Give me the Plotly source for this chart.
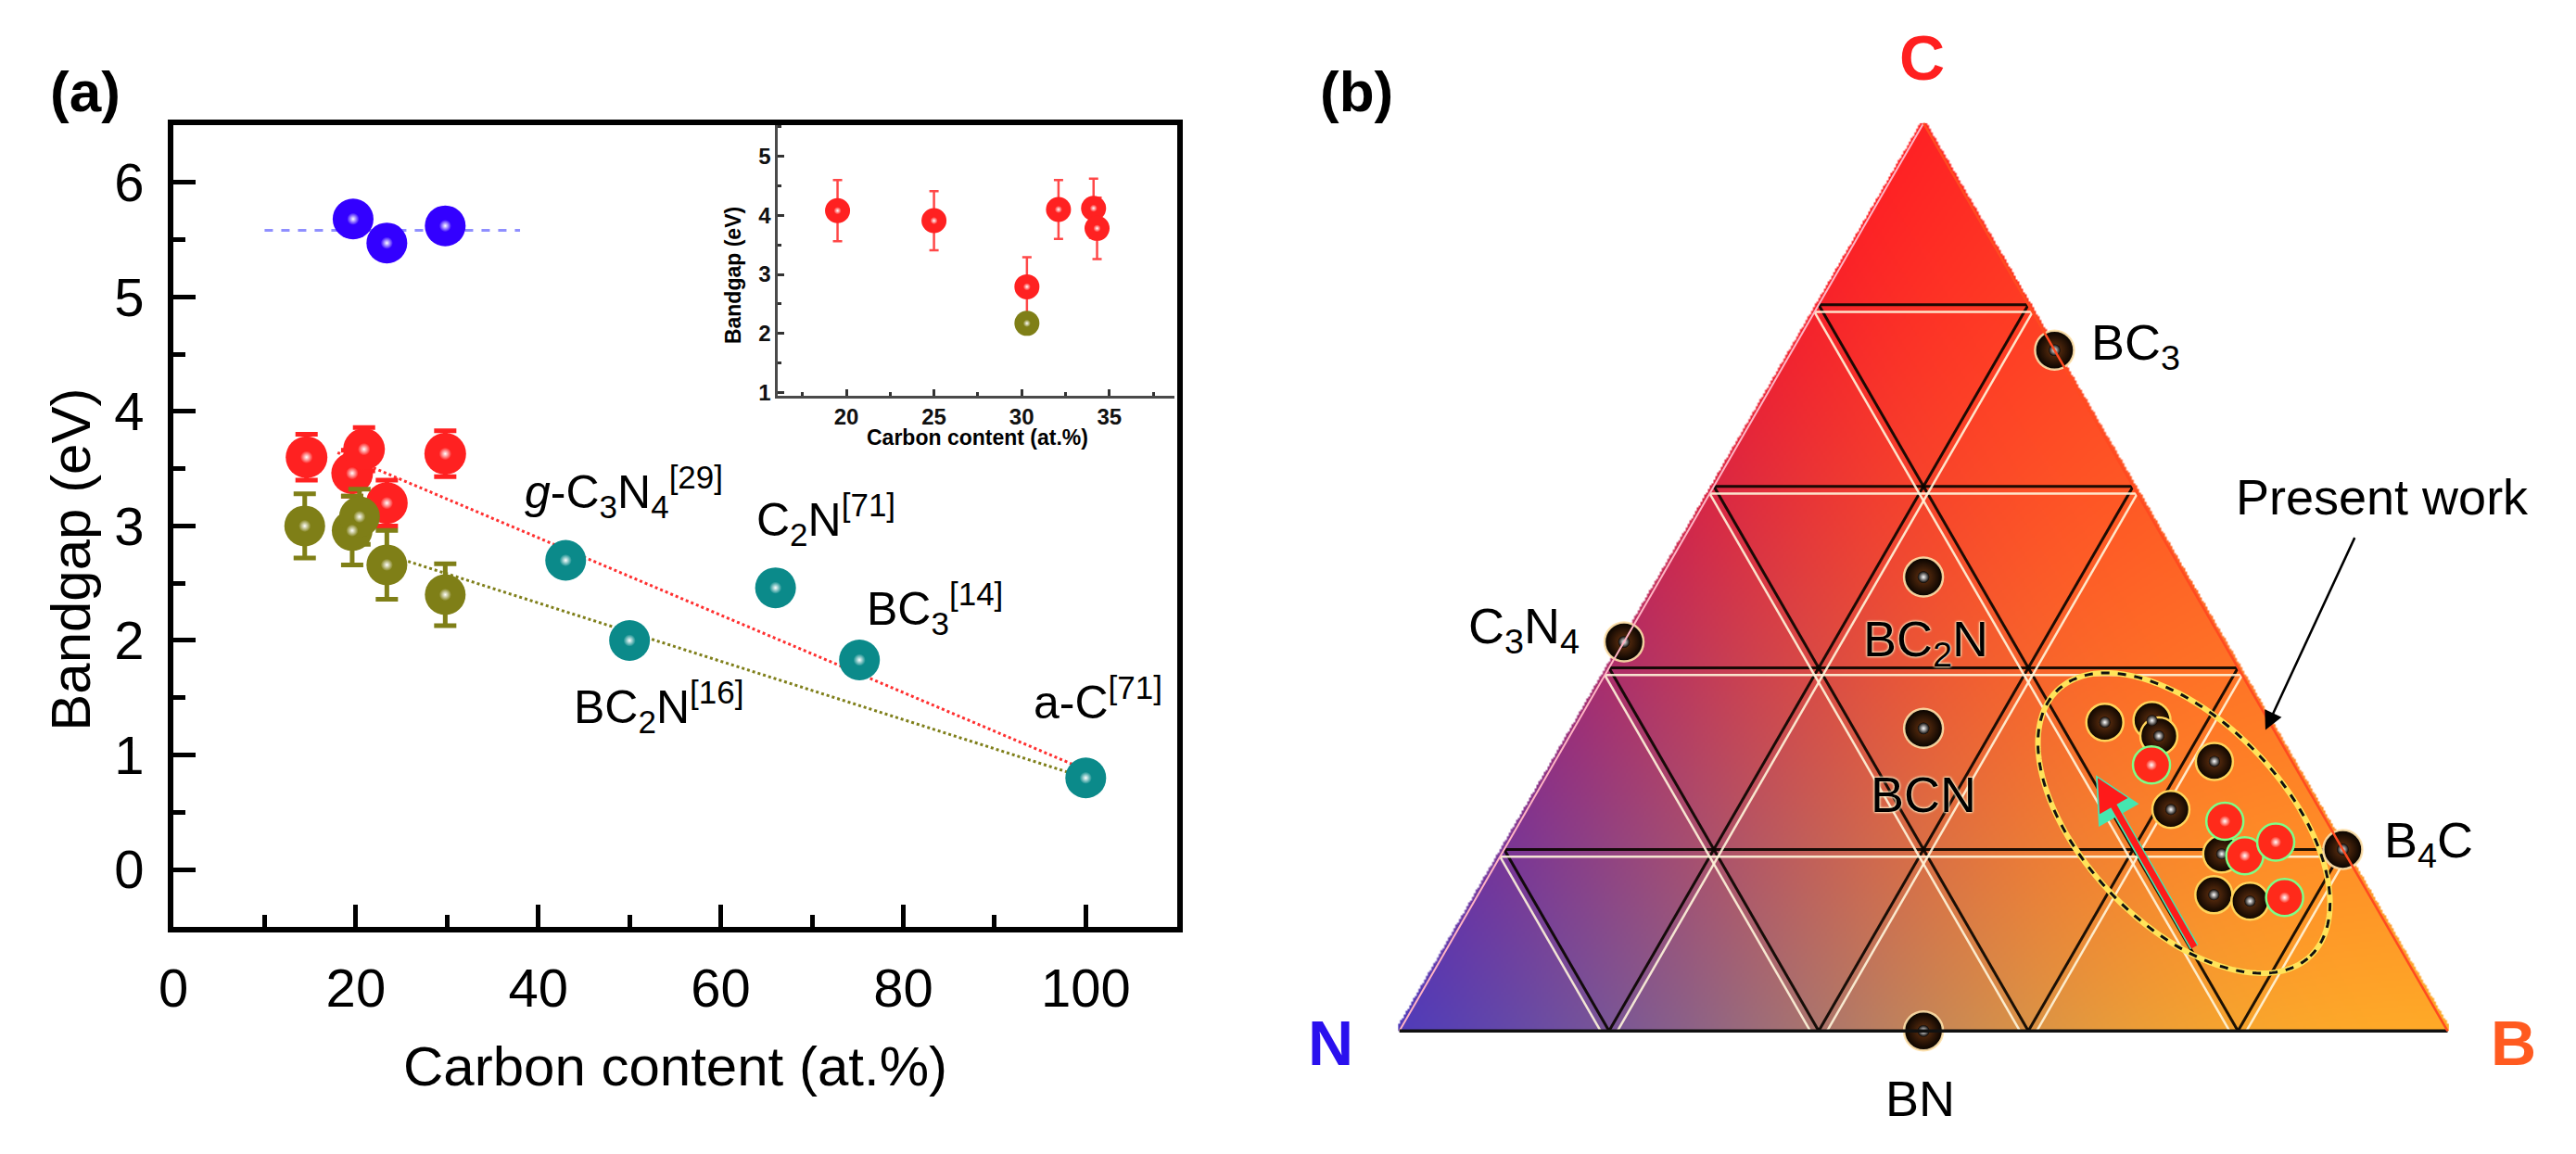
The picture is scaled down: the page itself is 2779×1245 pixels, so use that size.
import numpy as np
import plotly.graph_objects as go
import zlib, struct, base64

W, H = 2779, 1245
FONT = "Liberation Sans, Arial, sans-serif"

# ---------------- panel (a): main data ----------------
carbon_blue = [19.7, 23.4, 29.8]
gap_blue = [5.68, 5.47, 5.62]

carbon_red = [14.6, 19.6, 20.9, 23.4, 29.8]
gap_red = [3.60, 3.46, 3.67, 3.20, 3.63]
err_red = [0.20, 0.20, 0.19, 0.20, 0.20]

carbon_olive = [14.4, 19.6, 20.4, 23.4, 29.8]
gap_olive = [3.00, 2.96, 3.08, 2.66, 2.40]
err_olive = [0.28, 0.30, 0.24, 0.30, 0.27]

ref_labels = ["<i>g</i>-C<sub>3</sub>N<sub>4</sub><sup>[29]</sup>",
              "BC<sub>2</sub>N<sup>[16]</sup>",
              "C<sub>2</sub>N<sup>[71]</sup>",
              "BC<sub>3</sub><sup>[14]</sup>",
              "a-C<sup>[71]</sup>"]
carbon_ref = [43.0, 50.0, 66.0, 75.2, 100.0]
gap_ref = [2.70, 2.00, 2.46, 1.83, 0.80]

blue_guide_x = [10, 38]
blue_guide_y = [5.58, 5.58]
red_guide_x = [18, 100]
red_guide_y = [3.64, 0.87]
olive_guide_x = [23.4, 100]
olive_guide_y = [2.75, 0.80]

# ---------------- panel (a): inset data ----------------
inset_carbon_red = [19.5, 25.0, 30.3, 32.1, 34.1, 34.3]
inset_gap_red = [4.08, 3.91, 2.79, 4.10, 4.12, 3.78]
inset_err_red = [0.52, 0.50, 0.50, 0.50, 0.50, 0.52]
inset_carbon_olive = [30.3]
inset_gap_olive = [2.17]

# ---------------- panel (b): ternary data (C, N, B fractions) ----------------
phase_labels = ["BC<sub>3</sub>", "C<sub>3</sub>N<sub>4</sub>", "BC<sub>2</sub>N", "BCN", "BN", "B<sub>4</sub>C"]
phase_C = [0.75, 0.4286, 0.50, 0.3333, 0.0, 0.20]
phase_N = [0.0, 0.5714, 0.25, 0.3333, 0.50, 0.0]
phase_B = [0.25, 0.0, 0.25, 0.3334, 0.50, 0.80]

pw_black_C = [0.340, 0.342, 0.325, 0.297, 0.244, 0.195, 0.150, 0.143]
pw_black_N = [0.157, 0.111, 0.113, 0.074, 0.142, 0.118, 0.148, 0.117]
pw_black_B = [0.503, 0.547, 0.562, 0.629, 0.614, 0.687, 0.702, 0.740]

pw_red_C = [0.293, 0.231, 0.193, 0.208, 0.147]
pw_red_N = [0.136, 0.097, 0.097, 0.060, 0.082]
pw_red_B = [0.571, 0.672, 0.710, 0.732, 0.771]

grid_values = [0.2, 0.4, 0.6, 0.8]

# ellipse around present work (centre composition, semi-axes in triangle-side units, tilt)
ELL_C, ELL_N, ELL_B = 0.229, 0.137, 0.634
ELL_A, ELL_Bax, ELL_ANG = 0.175, 0.0965, -46.5


def X(px):
    return px / W


def Y(py):
    return 1 - py / H


fig = go.Figure()


def add_balls(x, y, color, size, xa, ya, err=None, errcolor=None, thick=5, capw=12, hl=0.3):
    tr = dict(x=x, y=y, mode="markers", xaxis=xa, yaxis=ya, hoverinfo="skip",
              showlegend=False, cliponaxis=False,
              marker=dict(size=size, color=color, line=dict(width=0)))
    if err is not None:
        tr["error_y"] = dict(type="data", array=err, visible=True, color=errcolor or color,
                             thickness=thick, width=capw)
    fig.add_trace(go.Scatter(**tr))
    fig.add_trace(go.Scatter(x=x, y=y, mode="markers", xaxis=xa, yaxis=ya, hoverinfo="skip",
                             showlegend=False, cliponaxis=False,
                             marker=dict(size=size * hl, color=color, line=dict(width=0),
                                         gradient=dict(type="radial", color="white"))))


fig.add_trace(go.Scatter(x=blue_guide_x, y=blue_guide_y, mode="lines", xaxis="x", yaxis="y",
                         line=dict(color="#8f8fff", width=3, dash="dash"), hoverinfo="skip", showlegend=False))
fig.add_trace(go.Scatter(x=red_guide_x, y=red_guide_y, mode="lines", xaxis="x", yaxis="y",
                         line=dict(color="#ff3030", width=3, dash="dot"), hoverinfo="skip", showlegend=False))
fig.add_trace(go.Scatter(x=olive_guide_x, y=olive_guide_y, mode="lines", xaxis="x", yaxis="y",
                         line=dict(color="#7f7f1a", width=3, dash="dot"), hoverinfo="skip", showlegend=False))

add_balls(carbon_blue, gap_blue, "#3300ff", 44, "x", "y")
add_balls(carbon_red, gap_red, "#ff2121", 45, "x", "y", err=err_red)
add_balls(carbon_olive, gap_olive, "#7f7f17", 44, "x", "y", err=err_olive)
add_balls(carbon_ref, gap_ref, "#0b8a8a", 44, "x", "y")

# ---------- inset ----------
add_balls(inset_carbon_red, inset_gap_red, "#ff2121", 27, "x2", "y2", err=inset_err_red,
          errcolor="#ff4848", thick=2.5, capw=5)
add_balls(inset_carbon_olive, inset_gap_olive, "#7f7f17", 27, "x2", "y2")

# ---------- ternary panel ----------
TRI_L, TRI_R, TRI_T = 1501, 2641, 134
TRI_H = (TRI_R - TRI_L) / np.sqrt(4 / 3)

IW, IH = 570, int(round(TRI_H / 2))
jj, ii = np.meshgrid(np.arange(IW), np.arange(IH))
gx = (jj + 0.5) / IW
gy = 1 - (ii + 0.5) / IH
cC = gy
cB = gx - gy / 2
cN = 1 - cC - cB
inside = (cC >= -0.003) & (cB >= -0.003) & (cN >= -0.003)
wC = np.clip(cC, 0, 1)
wB = np.clip(cB, 0, 1)
wN = np.clip(cN, 0, 1) ** 2.0
ws = wC + wB + wN + 1e-9
col_C = np.array([255, 34, 36])
col_N = np.array([80, 60, 186])
col_B = np.array([255, 170, 40])
rgb = (wC[..., None] * col_C + wB[..., None] * col_B + wN[..., None] * col_N) / ws[..., None]
rgba = np.zeros((IH, IW, 4), dtype=np.uint8)
rgba[..., :3] = np.clip(rgb, 0, 255).astype(np.uint8)
rgba[..., 3] = np.where(inside, 255, 0)


def png_uri(arr):
    h, w, _ = arr.shape
    a = arr.astype(np.int16)
    d = a.copy()
    d[1:] = a[1:] - a[:-1]
    d = (d % 256).astype(np.uint8).reshape(h, w * 4)
    raw = np.concatenate([np.full((h, 1), 2, np.uint8), d], axis=1).tobytes()

    def chunk(tag, payload):
        return (struct.pack(">I", len(payload)) + tag + payload +
                struct.pack(">I", zlib.crc32(tag + payload) & 0xFFFFFFFF))
    png = (b"\x89PNG\r\n\x1a\n" + chunk(b"IHDR", struct.pack(">IIBBBBB", w, h, 8, 6, 0, 0, 0)) +
           chunk(b"IDAT", zlib.compress(raw, 9)) + chunk(b"IEND", b""))
    return "data:image/png;base64," + base64.b64encode(png).decode()


fig.add_layout_image(dict(source=png_uri(rgba), xref="paper", yref="paper",
                          x=X(TRI_L), y=Y(TRI_T), sizex=(TRI_R - TRI_L) / W, sizey=TRI_H / H,
                          xanchor="left", yanchor="top", sizing="stretch", layer="below"))

off = 0.008
light = "rgba(255,246,220,0.9)"
for v in grid_values:
    s = 1 - v + off
    fig.add_trace(go.Scatterternary(a=[v - off] * 2, b=[s, 0], c=[0, s], mode="lines",
                                    line=dict(color=light, width=2.5), hoverinfo="skip", showlegend=False))
    s2 = 1 - v - off
    fig.add_trace(go.Scatterternary(b=[v + off] * 2, a=[s2, 0], c=[0, s2], mode="lines",
                                    line=dict(color=light, width=2.5), hoverinfo="skip", showlegend=False))
    fig.add_trace(go.Scatterternary(c=[v + off] * 2, a=[s2, 0], b=[0, s2], mode="lines",
                                    line=dict(color=light, width=2.5), hoverinfo="skip", showlegend=False))

t = np.linspace(0, 2 * np.pi, 240)
ang = np.deg2rad(ELL_ANG)
x0 = ELL_B + ELL_C / 2
y0 = ELL_C * np.sqrt(3) / 2
ex = x0 + ELL_A * np.cos(t) * np.cos(ang) - ELL_Bax * np.sin(t) * np.sin(ang)
ey = y0 + ELL_A * np.cos(t) * np.sin(ang) + ELL_Bax * np.sin(t) * np.cos(ang)
eC = ey / (np.sqrt(3) / 2)
eB = ex - eC / 2
eN = 1 - eC - eB
fig.add_trace(go.Scatterternary(a=eC, b=eN, c=eB, mode="lines", cliponaxis=False,
                                line=dict(color="#ffe45a", width=6), hoverinfo="skip", showlegend=False))
fig.add_trace(go.Scatterternary(a=eC, b=eN, c=eB, mode="lines", cliponaxis=False,
                                line=dict(color="#111", width=3, dash="dash"), hoverinfo="skip", showlegend=False))


def tern_balls(C, N, B, color, size, linecolor, grad="#6a3410"):
    fig.add_trace(go.Scatterternary(a=C, b=N, c=B, mode="markers", cliponaxis=False,
                                    marker=dict(size=size, color=color, line=dict(color=linecolor, width=2.5),
                                                gradient=dict(type="radial", color=grad)),
                                    hoverinfo="skip", showlegend=False))
    fig.add_trace(go.Scatterternary(a=C, b=N, c=B, mode="markers", cliponaxis=False,
                                    marker=dict(size=size * 0.3, color=color, line=dict(width=0),
                                                gradient=dict(type="radial", color="white")),
                                    hoverinfo="skip", showlegend=False))


tern_balls(phase_C, phase_N, phase_B, "#050200", 42, "rgba(255,225,170,0.9)")
tern_balls(pw_black_C, pw_black_N, pw_black_B, "#0a0400", 40, "#ffd45a")
tern_balls(pw_red_C, pw_red_N, pw_red_B, "#ff2a1a", 40, "#7dff86", grad="#ff2a1a")

axis_common = dict(showticklabels=False, ticks="", dtick=0.2, tick0=0, showgrid=True,
                   gridcolor="rgba(10,5,0,0.92)", gridwidth=2.5, showline=True, min=0)
fig.update_layout(ternary=dict(
    domain=dict(x=[X(TRI_L), X(TRI_R)], y=[Y(TRI_T + TRI_H), Y(TRI_T)]),
    bgcolor="rgba(0,0,0,0)", sum=1,
    aaxis=dict(axis_common, linecolor="#ffb4c4", linewidth=2, title=dict(text="")),
    baxis=dict(axis_common, linecolor="#111", linewidth=3.5, title=dict(text="")),
    caxis=dict(axis_common, linecolor="#ff4a20", linewidth=2.5, title=dict(text="")),
))

tick_main = dict(family=FONT, size=58, color="black")
fig.update_layout(
    width=W, height=H, autosize=False,
    margin=dict(l=0, r=0, t=0, b=0, pad=0),
    paper_bgcolor="white", plot_bgcolor="rgba(0,0,0,0)",
    font=dict(family=FONT, color="black"),
    xaxis=dict(domain=[X(172), X(1261)], range=[0, 110], anchor="y",
               showline=True, linewidth=6, linecolor="black", mirror=True,
               ticks="inside", ticklen=24, tickwidth=5, tickcolor="black",
               tick0=0, dtick=20, tickfont=tick_main, ticklabelstandoff=10,
               minor=dict(ticks="inside", ticklen=13, tickwidth=5, tickcolor="black", dtick=10),
               showgrid=False, zeroline=False),
    yaxis=dict(domain=[Y(1008), Y(136)], range=[-0.5, 6.5], anchor="x",
               showline=True, linewidth=6, linecolor="black", mirror=True,
               ticks="inside", ticklen=24, tickwidth=5, tickcolor="black",
               tick0=0, dtick=1, tickfont=tick_main, ticklabelstandoff=14,
               minor=dict(ticks="inside", ticklen=13, tickwidth=5, tickcolor="black", dtick=0.5),
               showgrid=False, zeroline=False),
    xaxis2=dict(domain=[X(828), X(1258)], range=[16.1, 38.7], anchor="y2",
                showline=True, linewidth=2.5, linecolor="#4a4a4a", mirror=False,
                ticks="inside", ticklen=7, tickwidth=2.5, tickcolor="#333",
                tick0=0, dtick=5, ticklabelstandoff=0,
                tickfont=dict(family=FONT, size=24, color="#111", weight="bold"),
                minor=dict(ticks="inside", ticklen=4, tickwidth=2.5, tickcolor="#333", dtick=2.5),
                showgrid=False, zeroline=False),
    yaxis2=dict(domain=[Y(430), Y(136)], range=[0.95, 5.53], anchor="x2",
                showline=True, linewidth=2.5, linecolor="#4a4a4a", mirror=False,
                ticks="inside", ticklen=7, tickwidth=2.5, tickcolor="#333",
                tick0=0, dtick=1, ticklabelstandoff=0,
                tickfont=dict(family=FONT, size=24, color="#111", weight="bold"),
                minor=dict(ticks="inside", ticklen=4, tickwidth=2.5, tickcolor="#333", dtick=0.5),
                showgrid=False, zeroline=False),
)

ann = []


def text(px, py, s, size, xanchor="center", yanchor="middle", angle=0, color="black", weight="normal",
         shadow="none"):
    ann.append(dict(x=X(px), y=Y(py), xref="paper", yref="paper", text=s, showarrow=False,
                    xanchor=xanchor, yanchor=yanchor, textangle=angle,
                    font=dict(family=FONT, size=size, color=color, weight=weight, shadow=shadow)))


text(76, 99, "(a)", 62, weight="bold")
text(1456, 99, "(b)", 62, weight="bold")
text(60, 609, "Bandgap (eV)", 60, angle=-90)
text(717, 1160, "Carbon content (at.%)", 60)
text(779, 300, "Bandgap (eV)", 23, angle=-90, weight="bold")
text(1045, 476, "Carbon content (at.%)", 23, weight="bold")

ref_label_pos = [(551, 535), (604, 769), (803, 565), (922, 662), (1103, 760)]
for lab, (lx, ly) in zip(ref_labels, ref_label_pos):
    text(lx, ly, lab, 50, xanchor="left")

text(2069, 62, "C", 68, color="#ff1f1f", weight="bold")
text(1428, 1134, "N", 68, color="#2a10ee", weight="bold")
text(2711, 1134, "B", 68, color="#ff5a20", weight="bold")

phase_label_pos = [(2251, 376, "left"), (1700, 684, "right"), (2073, 699, "center"),
                   (2071, 864, "center"), (2067, 1195, "center"), (2569, 917, "left")]
halo = "0px 0px 3px #fff0c8, 0px 0px 3px #fff0c8, 0px 0px 2px #fff0c8"
for lab, (lx, ly, xa) in zip(phase_labels, phase_label_pos):
    sh = halo if lab in ("BC<sub>2</sub>N", "BCN") else "none"
    text(lx, ly, lab, 54, xanchor=xa, shadow=sh)

text(2569, 540, "Present work", 54)

ann.append(dict(x=X(2442), y=Y(794), xref="paper", yref="paper", ax=97, ay=-209, text="",
                showarrow=True, arrowhead=2, arrowsize=1.6, arrowwidth=2.5, arrowcolor="black"))
ann.append(dict(x=X(2258), y=Y(843), xref="paper", yref="paper", ax=107, ay=187, text="",
                showarrow=True, arrowhead=2, arrowsize=1.0, arrowwidth=10, arrowcolor="#45e6b0"))
ann.append(dict(x=X(2260), y=Y(846), xref="paper", yref="paper", ax=105, ay=184, text="",
                showarrow=True, arrowhead=2, arrowsize=1.0, arrowwidth=7, arrowcolor="#ff1a1a"))

fig.update_layout(annotations=ann)

fig.write_html("out.html", config={"displayModeBar": False},
               post_script="document.body.style.margin='0';document.body.style.overflow='hidden';")
